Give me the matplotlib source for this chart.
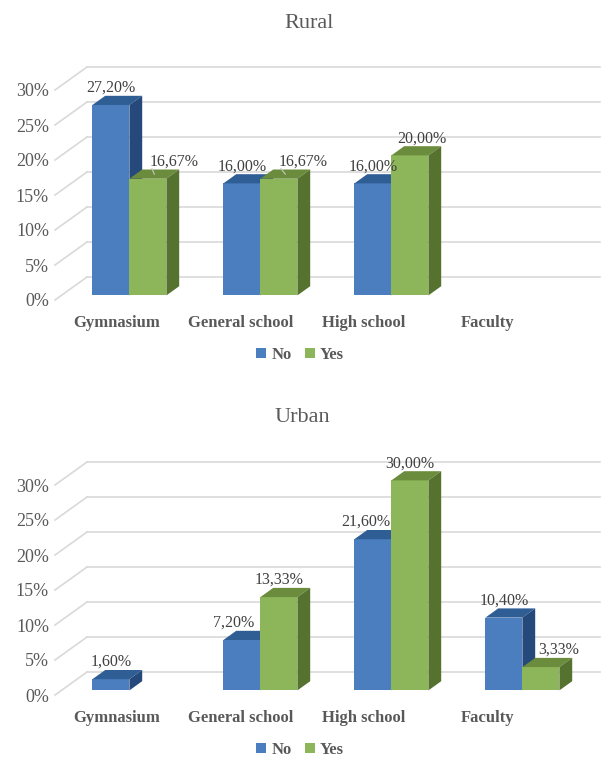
import matplotlib
matplotlib.use("Agg")
import matplotlib.pyplot as plt
from matplotlib.patches import Polygon, Patch

categorias = ["Gymnasium", "General school", "High school", "Faculty"]
series = ["No", "Yes"]
rural_no = [27.20, 16.00, 16.00, 0.0]
rural_yes = [16.67, 16.67, 20.00, 0.0]
urban_no = [1.60, 7.20, 21.60, 10.40]
urban_yes = [0.0, 13.33, 30.00, 3.33]
yticks = [0, 5, 10, 15, 20, 25, 30]

# geometria em pixels da figura
W, H = 605, 762
PX_X, PX_Y = 131.0, 7.0          # px por categoria / px por ponto percentual
X0_PX = 123.0
DX, DY = 32 / PX_X, 23 / PX_Y    # profundidade do piso (falso 3D)
D_FRENTE, D_FUNDO = 0.2, 0.6
LARGURA = 37 / PX_X

FONTE = "Liberation Serif"
GRADE = "#d9d9d9"
TEXTO = "#595959"

# frente, topo, lateral
CORES = {
    "No": ("#4a7ebf", "#2f5e95", "#24497a"),
    "Yes": ("#8db65a", "#6b8c3c", "#55722e"),
}

# deslocamento horizontal (px) de alguns rótulos e se levam linha guia
AJUSTES = {
    "Rural": {(0, 1): (26, True), (1, 1): (24, True), (2, 1): (12, False)},
    "Urban": {(1, 0): (-8, False), (2, 0): (-7, False), (3, 1): (18, False)},
}


def criar_eixo(fig, base_px):
    topo, fundo = base_px - 260, base_px + 40
    ax = fig.add_axes([0, 1 - fundo / H, 1, (fundo - topo) / H])
    ax.set_xlim(-X0_PX / PX_X, (W - X0_PX) / PX_X)
    ax.set_ylim(-40 / PX_Y, 260 / PX_Y)
    ax.axis("off")
    return ax


def desenhar_barra(ax, x0, v, cores, z):
    frente, topo, lateral = cores
    fx, fy = D_FRENTE * DX, D_FRENTE * DY
    bx, by = D_FUNDO * DX, D_FUNDO * DY
    ax.add_patch(Polygon([(x0 + fx, fy), (x0 + LARGURA + fx, fy),
                          (x0 + LARGURA + fx, v + fy), (x0 + fx, v + fy)],
                         closed=True, facecolor=frente, edgecolor="none", zorder=z))
    ax.add_patch(Polygon([(x0 + fx, v + fy), (x0 + LARGURA + fx, v + fy),
                          (x0 + LARGURA + bx, v + by), (x0 + bx, v + by)],
                         closed=True, facecolor=topo, edgecolor="none", zorder=z))
    ax.add_patch(Polygon([(x0 + LARGURA + fx, fy), (x0 + LARGURA + bx, by),
                          (x0 + LARGURA + bx, v + by), (x0 + LARGURA + fx, v + fy)],
                         closed=True, facecolor=lateral, edgecolor="none", zorder=z))


def plotar_painel(fig, nome, base_px, valores_no, valores_yes, titulo_x):
    ax = criar_eixo(fig, base_px)

    x_esq = (55 - X0_PX) / PX_X
    x_dir = (600 - X0_PX) / PX_X
    for v in yticks:
        ax.plot([x_esq, x_esq + DX], [v, v + DY], color=GRADE, lw=1.2, zorder=1)
        ax.plot([x_esq + DX, x_dir], [v + DY, v + DY], color=GRADE, lw=1.2, zorder=1)
        ax.text(x_esq - 6 / PX_X, v - 2 / PX_Y, f"{v}%", ha="right", va="center",
                fontsize=13, color=TEXTO, family=FONTE)

    for i, cat in enumerate(categorias):
        for s, valores in enumerate([valores_no, valores_yes]):
            v = valores[i]
            if v <= 0:
                continue
            x0 = i - LARGURA + s * LARGURA
            desenhar_barra(ax, x0, v, CORES[series[s]], 2 + i * 2 + s)

            nudge, guia = AJUSTES[nome].get((i, s), (0, False))
            xc = x0 + LARGURA / 2 + D_FRENTE * DX
            xl = xc + nudge / PX_X
            yl = v + (D_FUNDO * DY) + 8 / PX_Y
            rotulo = f"{v:.2f}%".replace(".", ",")
            ax.text(xl, yl, rotulo, ha="center", va="center", fontsize=11.5,
                    color="#404040", family=FONTE, zorder=20)
            if guia:
                ym = v + (D_FRENTE + D_FUNDO) / 2 * DY
                xm = x0 + LARGURA / 2 + (D_FRENTE + D_FUNDO) / 2 * DX
                ax.plot([xm, xl - 22 / PX_X], [ym, yl - 7 / PX_Y],
                        color="#c8c8c8", lw=0.8, zorder=19)

        xc_cat = i - (6 + 7.5 * i) / PX_X
        ax.text(xc_cat, -23 / PX_Y, cat, ha="center", va="center",
                fontsize=12, fontweight="bold", color=TEXTO, family=FONTE)

    fig.text(titulo_x / W, 1 - (base_px - 277) / H, nome, ha="center", va="center",
             fontsize=16, color=TEXTO, family=FONTE)

    alças = [Patch(facecolor=CORES[s][0], edgecolor="none") for s in series]
    fig.legend(alças, series, loc="center",
               bbox_to_anchor=(300 / W, 1 - (base_px + 55) / H),
               ncol=2, frameon=False, handlelength=0.6, handleheight=0.6,
               handletextpad=0.3, columnspacing=0.8,
               prop={"family": FONTE, "weight": "bold", "size": 12},
               labelcolor=TEXTO)


fig = plt.figure(figsize=(W / 100, H / 100), dpi=100)
fig.patch.set_facecolor("white")
plotar_painel(fig, "Rural", 300, rural_no, rural_yes, 309)
plotar_painel(fig, "Urban", 695, urban_no, urban_yes, 302)
fig.savefig("out.png", dpi=100)
plt.close(fig)
